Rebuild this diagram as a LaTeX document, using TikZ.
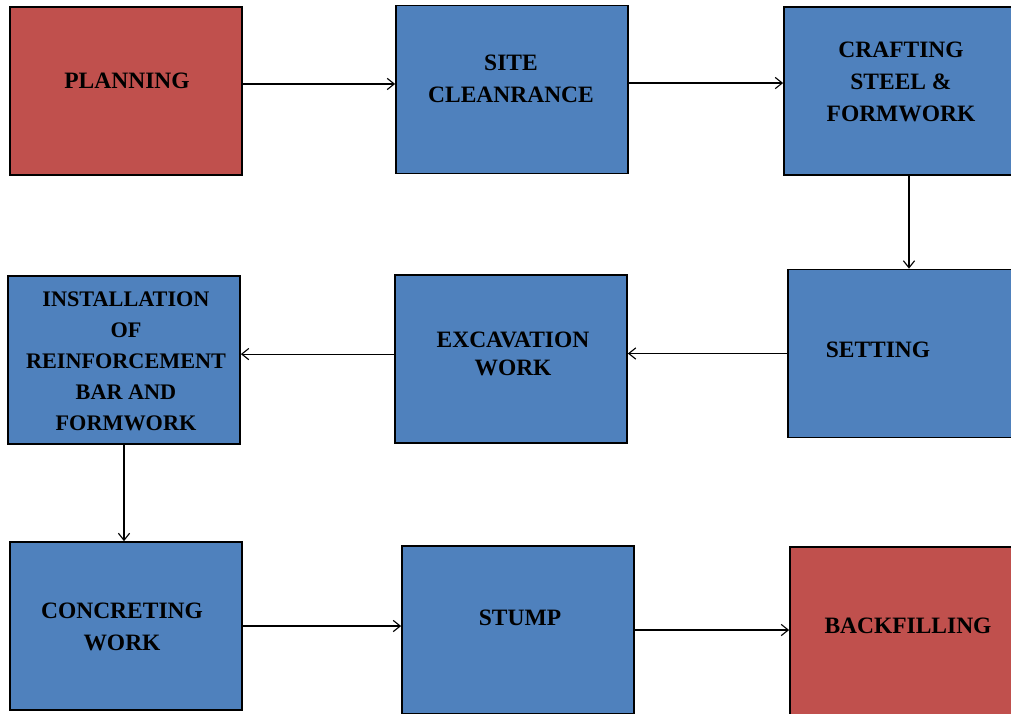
\documentclass[tikz,border=0pt]{standalone}
\usepackage{fontspec}
\setmainfont{Liberation Serif}
\usetikzlibrary{arrows.meta}
\definecolor{boxred}{RGB}{192,80,77}
\definecolor{boxblue}{RGB}{79,129,189}
\tikzset{
  stepbox/.style={draw=black,line width=1.2pt,minimum width=5.8cm,minimum height=4.2cm,inner sep=0pt},
  lbl/.style={align=center,font=\bfseries\fontsize{16.7}{22.5}\selectfont},
  arr/.style={line width=0.8pt,-{Straight Barb[length=5pt,width=8pt]}}
}

\begin{document}
\begin{tikzpicture}[x=0.025cm,y=-0.025cm]
  \useasboundingbox (0,0) rectangle (1011,713);
  \clip (0,0) rectangle (1011,713);
  % boxes
  \node[stepbox,fill=boxred] (plan) at (126,91) {};
  \node[stepbox,fill=boxblue] (site) at (512,89.5) {};
  \node[stepbox,fill=boxblue] (craft) at (900,91) {};
  \node[stepbox,fill=boxblue] (setting) at (904,353.5) {};
  \node[stepbox,fill=boxblue] (excav) at (511,359) {};
  \node[stepbox,fill=boxblue] (install) at (124,360) {};
  \node[stepbox,fill=boxblue] (concr) at (126,626) {};
  \node[stepbox,fill=boxblue] (stump) at (518,630) {};
  \node[stepbox,fill=boxred] (back) at (906,631) {};
  % texts
  \node[lbl] (plan-t) at (127,81) {PLANNING};
  \node[lbl] (site-t) at (511,79) {SITE\\CLEANRANCE};
  \node[lbl] (craft-t) at (901,82) {CRAFTING\\STEEL \&\\FORMWORK};
  \node[lbl] (setting-t) at (878,350) {SETTING};
  \node[lbl] (excav-t) at (513,354) {EXCAVATION\\[-3pt]WORK};
  \node[lbl,font=\bfseries\fontsize{15.8}{22}\selectfont] (install-t) at (126,361) {INSTALLATION\\OF\\REINFORCEMENT\\BAR AND\\FORMWORK};
  \node[lbl] (concr-t) at (122,627) {CONCRETING\\WORK};
  \node[lbl] (stump-t) at (520,618) {STUMP};
  \node[lbl] (back-t) at (908,626) {BACKFILLING};
  % arrows
  \draw[arr] ([yshift=5pt]plan.east) -- ([yshift=5pt]plan.east -| site.west);
  \draw[arr] ([yshift=4.6pt]site.east) -- ([yshift=4.6pt]site.east -| craft.west);
  \draw[arr] ([xshift=6.4pt]craft.south) -- ([xshift=6.4pt]craft.south |- setting.north);
  \draw[arr] (setting.west) -- (setting.west -| excav.east);
  \draw[arr] ([yshift=3.5pt]excav.west) -- ([yshift=3.5pt]excav.west -| install.east);
  \draw[arr] (install.south) -- (install.south |- concr.north);
  \draw[arr] (concr.east) -- (concr.east -| stump.west);
  \draw[arr] (stump.east) -- (stump.east -| back.west);
\end{tikzpicture}
\end{document}
